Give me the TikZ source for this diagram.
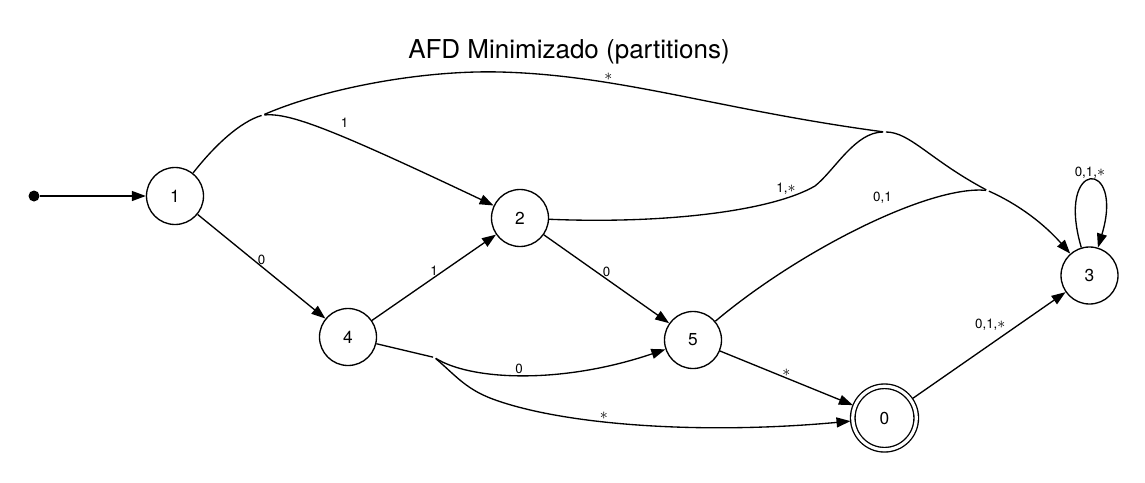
\documentclass[tikz,border=0pt]{standalone}
\usepackage{fontspec}
\setmainfont{TeX Gyre Heros}
\usepackage{tikz}
\usetikzlibrary{arrows.meta}

\newcommand{\st}{{\fontsize{13}{13}\selectfont$\ast$}}

\tikzset{
  state/.style={circle,draw,line width=1pt,minimum size=42.75pt,inner sep=0pt,font=\fontsize{13}{13}\selectfont},
  final/.style={state,double,double distance=2.4pt,minimum size=47.6pt,outer sep=1.8pt},
  lbl/.style={font=\fontsize{10}{10}\selectfont,inner sep=1pt},
  link/.style={line width=1pt},
  trans/.style={link,-{Triangle[length=10.5pt,width=7.5pt]}},
}

\begin{document}
\begin{tikzpicture}[x=0.75pt,y=-0.75pt]
  \useasboundingbox (0,0) rectangle (1145,482);
  \node[font=\fontsize{19.5}{19.5}\selectfont] (title) at (569,52) {AFD Minimizado (partitions)};
  % states
  \node[circle,fill,inner sep=0pt,minimum size=8.25pt] (start) at (34,196) {};
  \node[state] (1) at (175,196) {1};
  \node[state] (2) at (520,218) {2};
  \node[state] (4) at (348,337) {4};
  \node[state] (5) at (693,340) {5};
  \node[final] (0) at (884.5,418) {0};
  \node[state] (3) at (1089.5,275.5) {3};
  % junctions of merged edges
  \coordinate (j1) at (263,115);
  \coordinate (j2) at (884.5,132);
  \coordinate (j3) at (987.5,190.5);
  \coordinate (j4) at (434.5,357.5);
  % transitions
  \draw[trans] (start) -- (1);
  \draw[trans] (1) -- node[lbl,above] {0} (4);
  \draw[trans] (4) -- node[lbl,above] {1} (2);
  \draw[trans] (2) -- node[lbl,above] {0} (5);
  \draw[trans] (5) -- node[lbl,above] {\st} (0);
  \draw[trans] (0) -- node[lbl,above left,pos=0.62] {0,1,\st} (3);
  \draw[trans] (3) .. controls (1055,158) and (1125,158) .. (3) node[lbl,above,pos=0.5] {0,1,\st};
  % edges out of 1
  \draw[link,shorten >=1.1pt] (1) .. controls (215,145) and (240,122) .. (j1);
  \draw[trans,shorten <=1.1pt] (j1) .. controls (290,113) and (330,128) .. (2) node[lbl,above=6pt,pos=0.58] {1};
  \draw[link,shorten <=1.1pt] (j1) .. controls (323,89) and (420,70) .. (500,72);
  \draw[link,shorten >=1.1pt] (500,72) .. controls (620,75) and (720,110) .. (j2) node[lbl,above,pos=0.31] {\st};
  % edges into 3
  \draw[link] (2) .. controls (660,224) and (770,212) .. (815,186);
  \draw[link,shorten >=1.1pt] (815,186) .. controls (835,170) and (855,132) .. (j2);
  \node[lbl] (l2) at (786,189) {1,\st};
  \draw[link,shorten <=1.1pt,shorten >=1.1pt] (j2) .. controls (910,132) and (930,160) .. (j3);
  \draw[link,shorten >=1.1pt] (5) .. controls (800,250) and (930,185) .. (j3) node[lbl,above=9pt,pos=0.57] {0,1};
  \draw[trans,shorten <=1.1pt] (j3) .. controls (1020,205) and (1045,225) .. (3);
  % edges out of 4
  \draw[link,shorten >=1.1pt] (4) -- (j4);
  \draw[trans,shorten <=1.1pt] (j4) .. controls (470,380) and (560,385) .. (5) node[lbl,above,pos=0.48] {0};
  \draw[link,shorten <=1.1pt] (j4) .. controls (455,375) and (465,388) .. (490,398);
  \draw[trans] (490,398) .. controls (560,425) and (700,435) .. (0) node[lbl,above,pos=0.4] {\st};
\end{tikzpicture}
\end{document}
